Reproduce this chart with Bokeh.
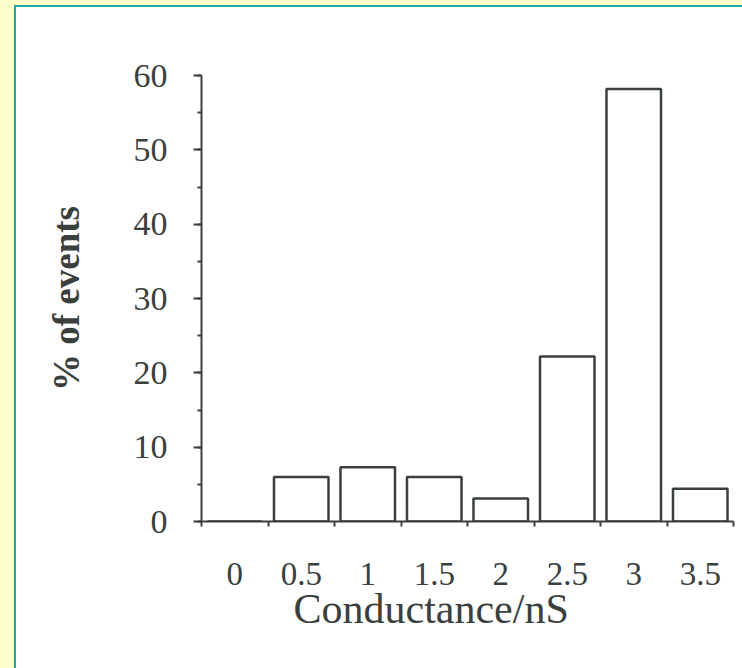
from bokeh.plotting import figure
from bokeh.models import (ColumnDataSource, Range1d, FixedTicker, SingleIntervalTicker,
                          Title, Div)
from bokeh.layouts import row, column
from bokeh.embed import file_html
from bokeh.resources import INLINE

# data
conductance = [0.0, 0.5, 1.0, 1.5, 2.0, 2.5, 3.0, 3.5]
tick_labels = ["0", "0.5", "1", "1.5", "2", "2.5", "3", "3.5"]
percent_events = [0.0, 6.0, 7.3, 6.0, 3.1, 22.2, 58.2, 4.4]

bin_width = 0.5
bin_edges = [c - bin_width / 2 for c in conductance] + [conductance[-1] + bin_width / 2]

INK = "#3a403e"
FONT = "Liberation Serif"
YELLOW = "#FFFFCC"
TEAL = "#22aaa2"

source = ColumnDataSource(dict(x=conductance, top=percent_events))

p = figure(width=726, height=661, output_backend="svg", toolbar_location=None,
           x_range=Range1d(bin_edges[0], bin_edges[-1]), y_range=Range1d(0, 60),
           min_border_left=185, min_border_right=9, min_border_top=68, min_border_bottom=147)
p.background_fill_color = "white"
p.border_fill_color = "white"
p.outline_line_color = None
p.xgrid.visible = False
p.ygrid.visible = False

p.vbar(x="x", top="top", bottom=0, width=bin_width * 0.82, source=source,
       fill_color="white", line_color=INK, line_width=2.5)

# x axis
xa = p.xaxis[0]
xa.ticker = FixedTicker(ticks=conductance, minor_ticks=bin_edges)
xa.major_label_overrides = {c: t for c, t in zip(conductance, tick_labels)}
xa.major_tick_out = 0
xa.major_tick_in = 0
xa.minor_tick_out = 5
xa.minor_tick_in = 0
xa.minor_tick_line_color = INK
xa.minor_tick_line_width = 2
xa.axis_line_color = INK
xa.axis_line_width = 2
xa.major_label_standoff = 36
xa.major_label_text_font = FONT
xa.major_label_text_font_size = "33px"
xa.major_label_text_color = INK

# y axis
ya = p.yaxis[0]
ya.ticker = SingleIntervalTicker(interval=10, num_minor_ticks=2)
ya.major_tick_out = 8
ya.major_tick_in = 0
ya.minor_tick_out = 4
ya.minor_tick_in = 0
ya.major_tick_line_color = INK
ya.minor_tick_line_color = INK
ya.major_tick_line_width = 2
ya.minor_tick_line_width = 2
ya.axis_line_color = INK
ya.axis_line_width = 2
ya.major_label_standoff = 26
ya.major_label_text_font = FONT
ya.major_label_text_font_size = "34px"
ya.major_label_text_color = INK
ya.axis_label = "% of events"
ya.axis_label_text_font = FONT
ya.axis_label_text_font_size = "37px"
ya.axis_label_text_font_style = "bold"
ya.axis_label_text_color = INK
ya.axis_label_standoff = 44

p.add_layout(Title(text="Conductance/nS", align="left", offset=92, standoff=-8,
                   text_font=FONT, text_font_size="42px", text_font_style="normal",
                   text_color=INK), "below")

yellow_top = Div(text="", width=742, height=5, margin=0,
                 styles={"background-color": YELLOW})
yellow_left = Div(text="", width=14, height=663, margin=0,
                  styles={"background-color": YELLOW})
teal_top = Div(text="", width=728, height=2, margin=0,
               styles={"background-color": TEAL})
teal_left = Div(text="", width=2, height=661, margin=0,
                styles={"background-color": TEAL})

layout = column(
    yellow_top,
    row(yellow_left,
        column(teal_top, row(teal_left, p, spacing=0), spacing=0),
        spacing=0),
    spacing=0)

open("out.html", "w").write(file_html(layout, INLINE))
